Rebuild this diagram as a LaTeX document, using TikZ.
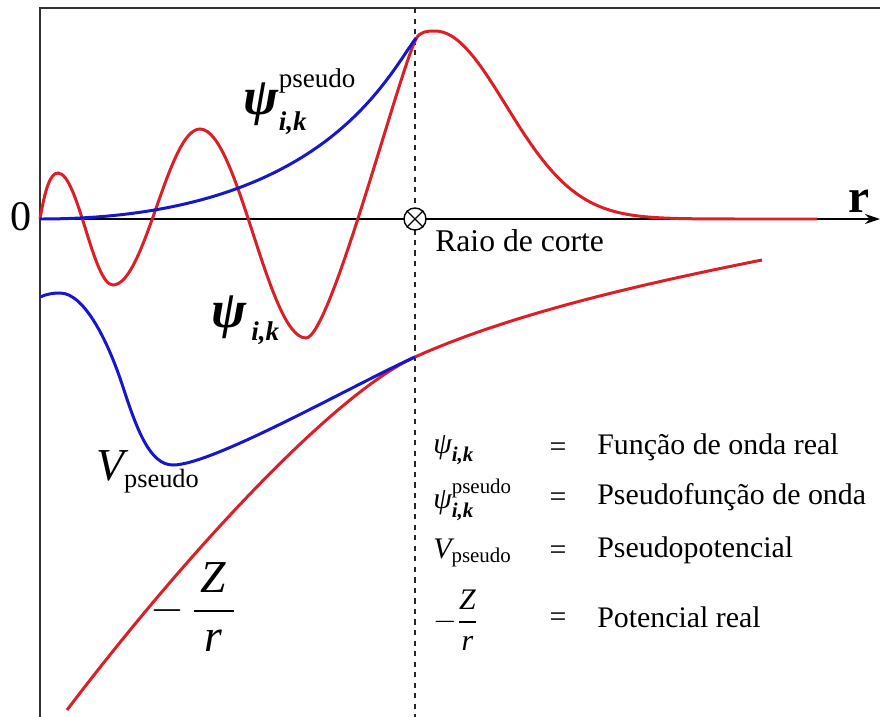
\documentclass[tikz,border=0pt]{standalone}
\usepackage{amsmath}
\usepackage{fontspec}
\setmainfont{Liberation Serif}
\usetikzlibrary{arrows.meta,positioning}

\definecolor{wavered}{RGB}{218,32,38}
\definecolor{pseudoblue}{RGB}{22,22,205}

\newcommand{\psibig}{\text{\fontsize{30}{30}\selectfont\bfseries\itshape ψ}}
\newcommand{\psismall}{\text{\itshape ψ}}
\newcommand{\ikidx}{\text{\bfseries\itshape i,k}}
\newcommand{\itl}[1]{\text{\itshape #1}}
\newcommand{\subtxt}[1]{\text{\fontsize{15}{16}\selectfont #1}}

\begin{document}
\begin{tikzpicture}[
    x=0.02cm, y=-0.02cm,
    frame/.style={line width=1.1pt, black!80},
    axisline/.style={line width=1pt, -{Stealth[length=3mm,width=2mm]}},
    cutline/.style={dashed, line width=0.7pt, black!85},
    realcurve/.style={wavered, line width=1.7pt},
    pseudocurve/.style={pseudoblue, line width=1.7pt},
    biglabel/.style={font=\fontsize{22}{26}\selectfont, inner sep=0pt},
    legsym/.style={anchor=west, font=\fontsize{17}{20}\selectfont, inner sep=0pt},
    legeq/.style={font=\fontsize{17}{20}\selectfont, inner sep=0pt},
    legtext/.style={anchor=west, font=\fontsize{17}{20}\selectfont, inner sep=0pt}
  ]
    \useasboundingbox (0,0) rectangle (880,717);

    % frame and axis
    \coordinate (corner) at (40,8);
    \coordinate (botleft) at (40,717);
    \coordinate (topright) at (880,8);
    \coordinate (origin) at (40,219);
    \coordinate (axisend) at (880,219);
    \draw[frame] (botleft) -- (corner) -- (topright);
    \draw[axisline] (origin) -- (axisend);
    \node[font=\fontsize{24}{28}\selectfont, inner sep=0pt] (zero) at (21,217) {0};
    \node[font=\fontsize{27}{30}\selectfont\bfseries, inner sep=0pt] (raxis) at (859,201) {r};

    % cut-off radius
    \coordinate (cuttop) at (415,8);
    \coordinate (cutbot) at (415,717);
    \draw[cutline] (cuttop) -- (cutbot);

    % real wave function
    \coordinate (wavepeak) at (435,31);
    \draw[realcurve] (origin) .. controls (45,190) and (50,173) .. (58,173)
      .. controls (78,173) and (93,285) .. (113,285)
      .. controls (145,285) and (168,129) .. (200,129)
      .. controls (238,129) and (268,338) .. (306,338)
      .. controls (330,338) and (398,75) .. (416,39)
      .. controls (420,31) and (428,31) .. (wavepeak);
    \draw[realcurve] plot[domain=435:817, samples=90] (\x, {219-188*exp(-((\x-435)/100)^2)});
    % real potential
    \coordinate (match) at (415,357);
    \draw[realcurve] (67,710) .. controls (187,552) and (335,393) .. (match)
      .. controls (515,312) and (652,282) .. (762,260);
    % pseudo wave function
    \draw[pseudocurve] (origin) .. controls (320,219) and (385,80) .. (416,38);
    % pseudopotential
    \draw[pseudocurve] (40,297) .. controls (47,294) and (53,293) .. (60,293)
      .. controls (85,293) and (109,344) .. (123,387)
      .. controls (137,430) and (150,465) .. (173,465)
      .. controls (213,465) and (355,384) .. (match);

    \node[draw, circle, fill=white, line width=0.8pt, minimum size=0.44cm, inner sep=0pt] (cut) at (415,219) {};
    \draw[line width=0.8pt] (cut.45) -- (cut.225) (cut.135) -- (cut.315);
    \node[anchor=west, font=\fontsize{18}{21}\selectfont, inner sep=0pt] (cutlabel) at (435,241) {Raio de corte};

    % curve labels
    \node[biglabel] (pseudolabel) at (300,102) {$\psibig^{\text{\raisebox{3pt}{pseudo}}}_{\text{\raisebox{-2pt}{\bfseries\itshape i,k}}}$};
    \node[biglabel] (reallabel) at (246,320) {$\psibig_{\,\ikidx}$};
    \node[biglabel, font=\fontsize{26}{30}\selectfont] (vlabel) at (148,472) {$\itl{V}_{\subtxt{pseudo}}$};
    \node[biglabel, font=\fontsize{26}{30}\selectfont] (zlabel) at (193,607) {$-\,\dfrac{\,\itl{Z}\,}{\,\itl{r}\,}$};

    % legend
    \node[legsym] (symA) at (433,450) {$\psismall_{\ikidx}$};
    \node[legsym] (symB) at (433,500) {$\psismall^{\text{pseudo}}_{\ikidx}$};
    \node[legsym] (symC) at (433,553) {$\itl{V}_{\text{pseudo}}$};
    \node[legsym] (symD) at (433,620) {$-\dfrac{\itl{Z}}{\itl{r}}$};
    \node[legeq] (eqA) at (558,450) {=};
    \node[legeq] (eqB) at (558,500) {=};
    \node[legeq] (eqC) at (558,553) {=};
    \node[legeq] (eqD) at (558,620) {=};
    \node[legtext] (txtA) at (597,447) {Função de onda real};
    \node[legtext] (txtB) at (597,497) {Pseudofunção de onda};
    \node[legtext] (txtC) at (597,550) {Pseudopotencial};
    \node[legtext] (txtD) at (597,617) {Potencial real};
  \end{tikzpicture}
\end{document}
